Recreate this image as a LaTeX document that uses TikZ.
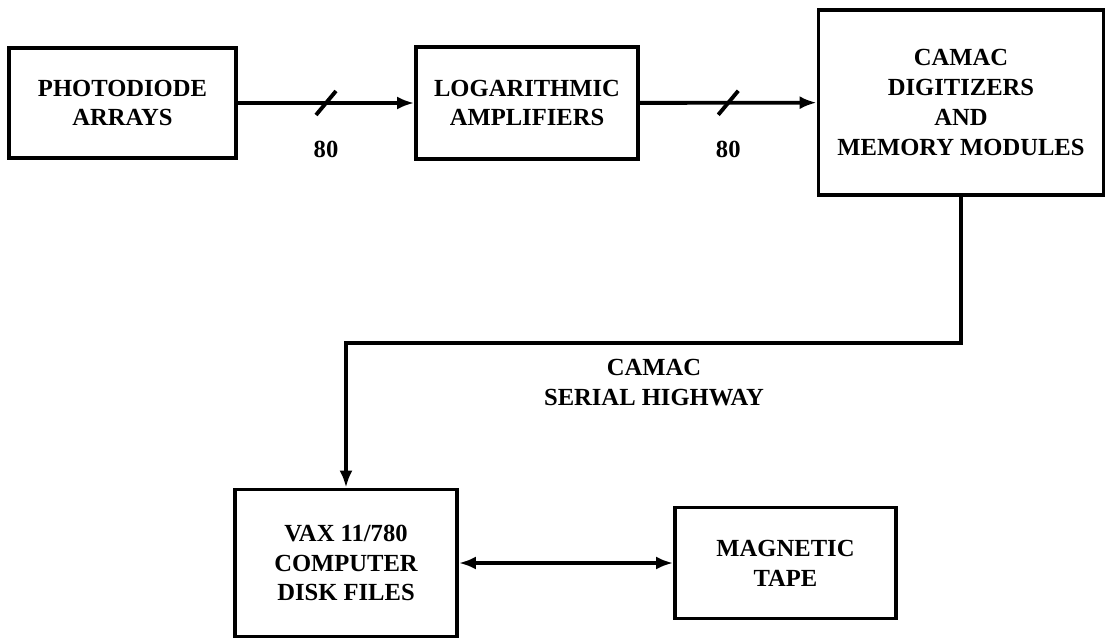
\documentclass[tikz,border=0pt]{standalone}
\usepackage{fontspec}
\setmainfont{Liberation Serif}
\usetikzlibrary{arrows.meta,positioning}

\begin{document}
\begin{tikzpicture}[x=0.02cm, y=-0.02cm, font=\fontsize{14}{17}\selectfont\bfseries,
  >={Latex[length=3.4mm,width=2.6mm]}, line width=2.2pt,
  b/.style={rectangle, draw, align=center, inner sep=0pt},
  l/.style={align=center, inner sep=0pt}]
  \useasboundingbox (0,0) rectangle (1105,639);
  \node[b, minimum width=4.54cm, minimum height=2.2cm] (pda) at (122.5,103) {PHOTODIODE\\ARRAYS};
  \node[b, minimum width=4.44cm, minimum height=2.24cm] (log) at (527,103) {LOGARITHMIC\\AMPLIFIERS};
  \node[b, minimum width=5.7cm, minimum height=3.7cm] (cam) at (961,102.5)
    {CAMAC\\DIGITIZERS\\AND\\MEMORY MODULES};
  \node[b, minimum width=4.44cm, minimum height=2.94cm] (vax) at (346,563)
    {VAX 11/780\\COMPUTER\\DISK FILES};
  \node[b, minimum width=4.42cm, minimum height=2.22cm] (tape) at (785.5,563) {MAGNETIC\\TAPE};
  % 80 parallel lines
  \draw[->] (pda) -- coordinate (s1) (log);
  \draw[->] (log) -- coordinate (s2) (cam);
  \draw (s1) +(-10,12) -- +(10,-12);
  \draw (s2) +(-10,12) -- +(10,-12);
  \node[l, below=0.72cm of s1] (n1) {80};
  \node[l, below=0.72cm of s2] (n2) {80};
  % serial highway
  \coordinate (hw) at (654,343);
  \draw[->] (cam.south) |- (hw) -| (vax.north);
  \node[l, below=0.28cm of hw] (hwl) {CAMAC\\SERIAL HIGHWAY};
  \draw[<->] (vax) -- (tape);
\end{tikzpicture}
\end{document}
